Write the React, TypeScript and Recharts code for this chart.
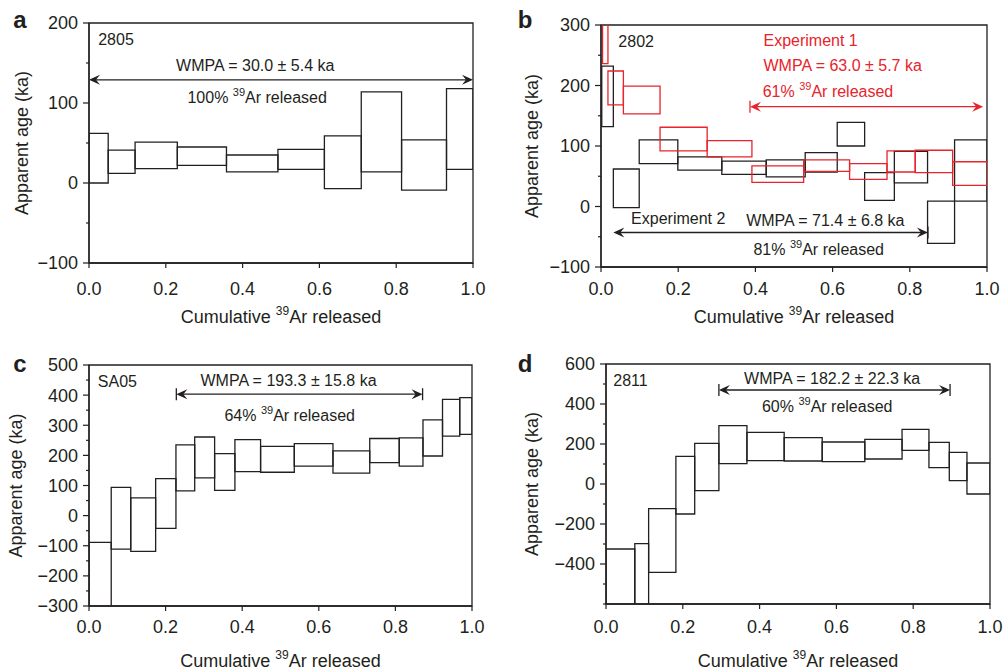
import React from 'react';
import { ComposedChart, XAxis, YAxis, ReferenceArea, ReferenceLine, ReferenceDot } from 'recharts';

// ---------- data ----------
// Panel a: sample 2805
const aSteps = [0, 0.05, 0.12, 0.23, 0.358, 0.492, 0.613, 0.709, 0.814, 0.931, 1.0];
const aHigh = [62, 41, 51, 45, 35, 42, 59, 114, 54, 118];
const aLow = [0, 12, 18, 22, 14, 17, -7, 14, -9, 17];

// Panel b: sample 2802, Experiment 2 (black)
const bExp2Steps = [0.002, 0.032, 0.099, 0.199, 0.313, 0.428, 0.529, 0.612, 0.683, 0.76, 0.846, 0.916, 1.0];
const bExp2High = [232, 62, 110, 82, 75, 77, 89, 139, 56, 91, 9, 110];
const bExp2Low = [132, -2, 71, 60, 53, 49, 57, 100, 10, 39, -61, 9];

// Panel b: sample 2802, Experiment 1 (red)
const bExp1Steps = [0.004, 0.018, 0.058, 0.153, 0.275, 0.391, 0.525, 0.644, 0.741, 0.814, 0.911, 1.0];
const bExp1High = [340, 224, 199, 131, 109, 67, 77, 71, 92, 93, 74];
const bExp1Low = [236, 168, 153, 92, 82, 40, 58, 45, 57, 56, 35];

// Panel c: sample SA05
const cSteps = [0, 0.058, 0.109, 0.174, 0.227, 0.276, 0.328, 0.381, 0.448, 0.536, 0.637, 0.733, 0.81, 0.872, 0.923, 0.968, 1.0];
const cHigh = [-89, 94, 59, 123, 235, 261, 206, 252, 230, 239, 215, 256, 258, 318, 386, 392];
const cLow = [-420, -111, -119, -42, 82, 125, 84, 146, 144, 164, 141, 176, 164, 198, 264, 270];

// Panel d: sample 2811
const dSteps = [0, 0.075, 0.111, 0.182, 0.231, 0.294, 0.367, 0.464, 0.563, 0.674, 0.771, 0.841, 0.894, 0.94, 1.0];
const dHigh = [-325, -298, -123, 138, 203, 292, 258, 232, 210, 223, 273, 208, 158, 105];
const dLow = [-720, -720, -442, -150, -33, 102, 117, 115, 112, 125, 168, 82, 17, -50];

// ticks
const xTicks = [0, 0.2, 0.4, 0.6, 0.8, 1.0];
const aYTicks = [-100, -50, 0, 50, 100, 150, 200];
const aYMajor = [-100, 0, 100, 200];
const bYTicks = [-100, -50, 0, 50, 100, 150, 200, 250, 300];
const bYMajor = [-100, 0, 100, 200, 300];
const cYTicks = [-300, -250, -200, -150, -100, -50, 0, 50, 100, 150, 200, 250, 300, 350, 400, 450, 500];
const cYMajor = [-300, -200, -100, 0, 100, 200, 300, 400, 500];
const dYTicks = [-600, -500, -400, -300, -200, -100, 0, 100, 200, 300, 400, 500, 600];
const dYMajor = [-400, -200, 0, 200, 400, 600];

// plateau ranges (cumulative fraction) and WMPA texts
const aPlateau = [0, 1.0];
const bExp1Plateau = [0.386, 0.99];
const bExp2Plateau = [0.032, 0.847];
const cPlateau = [0.228, 0.871];
const dPlateau = [0.294, 0.896];

// ---------- styles ----------
const INK = '#231f20';
const RED = '#e8232b';
const FONT = '"Liberation Sans", Arial, Helvetica, sans-serif';
const TICK_SIZE = 6;
const TICK_MARGIN = 5;

const fmtY = (v: number) => (v < 0 ? '\u2212' + Math.abs(v) : String(v));

const makeYTick = (majors: number[]) => (p: any) => {
  const { x, y, payload } = p;
  const ax = x + TICK_SIZE + TICK_MARGIN;
  const major = majors.includes(payload.value);
  return (
    <g>
      <line x1={ax} x2={ax - (major ? 6 : 3)} y1={y} y2={y} stroke={INK} strokeWidth={1.2} />
      {major && (
        <text x={ax - 11} y={y} dy="0.36em" textAnchor="end" fontSize={18} fill={INK} fontFamily={FONT}>
          {fmtY(payload.value)}
        </text>
      )}
    </g>
  );
};

type Series = { steps: number[]; high: number[]; low: number[]; color: string };

function renderBoxes(s: Series, key: string) {
  return s.high.map((h, i) => (
    <ReferenceArea
      key={key + i}
      x1={s.steps[i]}
      x2={s.steps[i + 1]}
      y1={s.low[i]}
      y2={h}
      fill="none"
      fillOpacity={0}
      stroke={s.color}
      strokeWidth={1.3}
      strokeOpacity={1}
      ifOverflow="hidden"
    />
  ));
}

const arrowShape = (color: string, barStart: boolean, barEnd: boolean) => (p: any) => {
  const { x1, y1, x2, y2 } = p;
  const L = 11, h = 5, n = 7;
  return (
    <g>
      <line x1={x1 + 4} y1={y1} x2={x2 - 4} y2={y2} stroke={color} strokeWidth={1.3} />
      <polygon points={`${x1},${y1} ${x1 + L},${y1 - h} ${x1 + n},${y1} ${x1 + L},${y1 + h}`} fill={color} />
      <polygon points={`${x2},${y2} ${x2 - L},${y2 - h} ${x2 - n},${y2} ${x2 - L},${y2 + h}`} fill={color} />
      {barStart && <line x1={x1} x2={x1} y1={y1 - 6} y2={y1 + 6} stroke={color} strokeWidth={1.3} />}
      {barEnd && <line x1={x2} x2={x2} y1={y2 - 6} y2={y2 + 6} stroke={color} strokeWidth={1.3} />}
    </g>
  );
};

type Ann = { x: number; y: number; pre: string; sup?: string; post?: string; anchor: 'start' | 'middle'; color?: string };

const annShape = (a: Ann) => (p: any) => (
  <text
    x={p.cx}
    y={p.cy}
    dy="0.36em"
    textAnchor={a.anchor}
    fontSize={16}
    fill={a.color || INK}
    fontFamily={FONT}
  >
    <tspan>{a.pre}</tspan>
    {a.sup && (
      <tspan fontSize={11} dy={-7}>
        {a.sup}
      </tspan>
    )}
    {a.post && <tspan dy={a.sup ? 7 : 0}>{a.post}</tspan>}
  </text>
);

type Arrow = { x1: number; x2: number; y: number; color: string; barStart: boolean; barEnd: boolean };

type PanelProps = {
  left: number;
  top: number;
  width: number;
  height: number;
  margin: { top: number; right: number; bottom: number; left: number };
  yAxisWidth: number;
  xAxisHeight: number;
  yDomain: [number, number];
  yTicks: number[];
  yMajor: number[];
  xTickMargin: number;
  xLabelOffset: number;
  yLabelX: number;
  letter: string;
  letterX: number;
  letterY: number;
  series: Series[];
  arrows: Arrow[];
  anns: Ann[];
};

function Panel(props: PanelProps) {
  const {
    left, top, width, height, margin, yAxisWidth, xAxisHeight, yDomain, yTicks, yMajor,
    xTickMargin, xLabelOffset, yLabelX, letter, letterX, letterY, series, arrows, anns,
  } = props;

  const xLabel = (p: any) => {
    const vb = p.viewBox || {};
    const cx = vb.x + vb.width / 2;
    const by = vb.y + xLabelOffset;
    return (
      <text x={cx} y={by} textAnchor="middle" fontSize={18} fill={INK} fontFamily={FONT}>
        <tspan>Cumulative </tspan>
        <tspan fontSize={12} dy={-8}>39</tspan>
        <tspan dy={8}>Ar released</tspan>
      </text>
    );
  };

  const yLabel = (p: any) => {
    const vb = p.viewBox || {};
    const cy = vb.y + vb.height / 2;
    return (
      <g>
        <text
          x={yLabelX}
          y={cy}
          dy="0.36em"
          transform={`rotate(-90, ${yLabelX}, ${cy})`}
          textAnchor="middle"
          fontSize={18}
          fill={INK}
          fontFamily={FONT}
        >
          Apparent age (ka)
        </text>
        <text x={letterX} y={letterY} textAnchor="middle" fontSize={24} fontWeight="bold" fill={INK} fontFamily={FONT}>
          {letter}
        </text>
      </g>
    );
  };

  return (
    <div style={{ position: 'absolute', left, top, width, height }}>
      <ComposedChart width={width} height={height} margin={margin} data={[]}>
        <XAxis
          type="number"
          dataKey="x"
          domain={[0, 1]}
          allowDataOverflow
          ticks={xTicks}
          interval={0}
          tickFormatter={(v: number) => v.toFixed(1)}
          tick={{ fontSize: 18, fill: INK, fontFamily: FONT }}
          tickSize={5}
          tickMargin={xTickMargin}
          height={xAxisHeight}
          stroke={INK}
          axisLine={{ stroke: INK, strokeWidth: 1.3 }}
          tickLine={{ stroke: INK, strokeWidth: 1.2 }}
          label={xLabel}
        />
        <YAxis
          type="number"
          dataKey="y"
          domain={yDomain}
          allowDataOverflow
          ticks={yTicks}
          interval={0}
          width={yAxisWidth}
          tickSize={TICK_SIZE}
          tickMargin={TICK_MARGIN}
          tickLine={false}
          tick={makeYTick(yMajor)}
          axisLine={{ stroke: INK, strokeWidth: 1.3 }}
          label={yLabel}
        />
        <ReferenceArea
          x1={0}
          x2={1}
          y1={yDomain[0]}
          y2={yDomain[1]}
          fill="none"
          fillOpacity={0}
          stroke={INK}
          strokeWidth={1.3}
          ifOverflow="visible"
        />
        {series.map((s, i) => renderBoxes(s, 's' + i + '-'))}
        {arrows.map((a, i) => (
          <ReferenceLine
            key={'ar' + i}
            segment={[{ x: a.x1, y: a.y }, { x: a.x2, y: a.y }]}
            stroke={a.color}
            ifOverflow="visible"
            shape={arrowShape(a.color, a.barStart, a.barEnd)}
          />
        ))}
        {anns.map((a, i) => (
          <ReferenceDot key={'an' + i} x={a.x} y={a.y} r={0} ifOverflow="visible" shape={annShape(a)} />
        ))}
      </ComposedChart>
    </div>
  );
}

export default function App() {
  return (
    <div
      style={{
        position: 'absolute',
        left: 0,
        top: 0,
        width: 1003,
        height: 671,
        background: '#fff',
        fontFamily: FONT,
        overflow: 'hidden',
      }}
    >
      <Panel
        left={0}
        top={0}
        width={500}
        height={335}
        margin={{ top: 23, right: 27, bottom: 0, left: 0 }}
        yAxisWidth={89}
        xAxisHeight={72}
        yDomain={[-100, 200]}
        yTicks={aYTicks}
        yMajor={aYMajor}
        xTickMargin={14}
        xLabelOffset={60}
        yLabelX={22}
        letter="a"
        letterX={20}
        letterY={28}
        series={[{ steps: aSteps, high: aHigh, low: aLow, color: INK }]}
        arrows={[{ x1: aPlateau[0], x2: aPlateau[1], y: 129, color: INK, barStart: false, barEnd: false }]}
        anns={[
          { x: 0.024, y: 180, pre: '2805', anchor: 'start' },
          { x: 0.433, y: 147, pre: 'WMPA = 30.0 \u00b1 5.4 ka', anchor: 'middle' },
          { x: 0.438, y: 107, pre: '100% ', sup: '39', post: 'Ar released', anchor: 'middle' },
        ]}
      />
      <Panel
        left={500}
        top={0}
        width={503}
        height={335}
        margin={{ top: 25, right: 16, bottom: 0, left: 0 }}
        yAxisWidth={101}
        xAxisHeight={68}
        yDomain={[-100, 300]}
        yTicks={bYTicks}
        yMajor={bYMajor}
        xTickMargin={10}
        xLabelOffset={56}
        yLabelX={32}
        letter="b"
        letterX={25}
        letterY={28}
        series={[
          { steps: bExp2Steps, high: bExp2High, low: bExp2Low, color: INK },
          { steps: bExp1Steps, high: bExp1High, low: bExp1Low, color: RED },
        ]}
        arrows={[
          { x1: bExp1Plateau[0], x2: bExp1Plateau[1], y: 165, color: RED, barStart: true, barEnd: false },
          { x1: bExp2Plateau[0], x2: bExp2Plateau[1], y: -43, color: INK, barStart: false, barEnd: true },
        ]}
        anns={[
          { x: 0.045, y: 273, pre: '2802', anchor: 'start' },
          { x: 0.421, y: 274, pre: 'Experiment 1', anchor: 'start', color: RED },
          { x: 0.421, y: 234, pre: 'WMPA = 63.0 \u00b1 5.7 ka', anchor: 'start', color: RED },
          { x: 0.419, y: 190, pre: '61% ', sup: '39', post: 'Ar released', anchor: 'start', color: RED },
          { x: 0.078, y: -19, pre: 'Experiment 2', anchor: 'start' },
          { x: 0.376, y: -23, pre: 'WMPA = 71.4 \u00b1 6.8 ka', anchor: 'start' },
          { x: 0.395, y: -71, pre: '81% ', sup: '39', post: 'Ar released', anchor: 'start' },
        ]}
      />
      <Panel
        left={0}
        top={335}
        width={500}
        height={336}
        margin={{ top: 30, right: 28, bottom: 0, left: 0 }}
        yAxisWidth={89}
        xAxisHeight={65}
        yDomain={[-300, 500]}
        yTicks={cYTicks}
        yMajor={cYMajor}
        xTickMargin={9}
        xLabelOffset={61}
        yLabelX={16}
        letter="c"
        letterX={20}
        letterY={37}
        series={[{ steps: cSteps, high: cHigh, low: cLow, color: INK }]}
        arrows={[{ x1: cPlateau[0], x2: cPlateau[1], y: 403, color: INK, barStart: true, barEnd: true }]}
        anns={[
          { x: 0.023, y: 445, pre: 'SA05', anchor: 'start' },
          { x: 0.521, y: 448, pre: 'WMPA = 193.3 \u00b1 15.8 ka', anchor: 'middle' },
          { x: 0.524, y: 334, pre: '64% ', sup: '39', post: 'Ar released', anchor: 'middle' },
        ]}
      />
      <Panel
        left={500}
        top={335}
        width={503}
        height={336}
        margin={{ top: 29, right: 13, bottom: 0, left: 0 }}
        yAxisWidth={106}
        xAxisHeight={67}
        yDomain={[-600, 600]}
        yTicks={dYTicks}
        yMajor={dYMajor}
        xTickMargin={11}
        xLabelOffset={63}
        yLabelX={32}
        letter="d"
        letterX={25}
        letterY={37}
        series={[{ steps: dSteps, high: dHigh, low: dLow, color: INK }]}
        arrows={[{ x1: dPlateau[0], x2: dPlateau[1], y: 470, color: INK, barStart: true, barEnd: true }]}
        anns={[
          { x: 0.019, y: 517, pre: '2811', anchor: 'start' },
          { x: 0.589, y: 528, pre: 'WMPA = 182.2 \u00b1 22.3 ka', anchor: 'middle' },
          { x: 0.576, y: 387, pre: '60% ', sup: '39', post: 'Ar released', anchor: 'middle' },
        ]}
      />
    </div>
  );
}
